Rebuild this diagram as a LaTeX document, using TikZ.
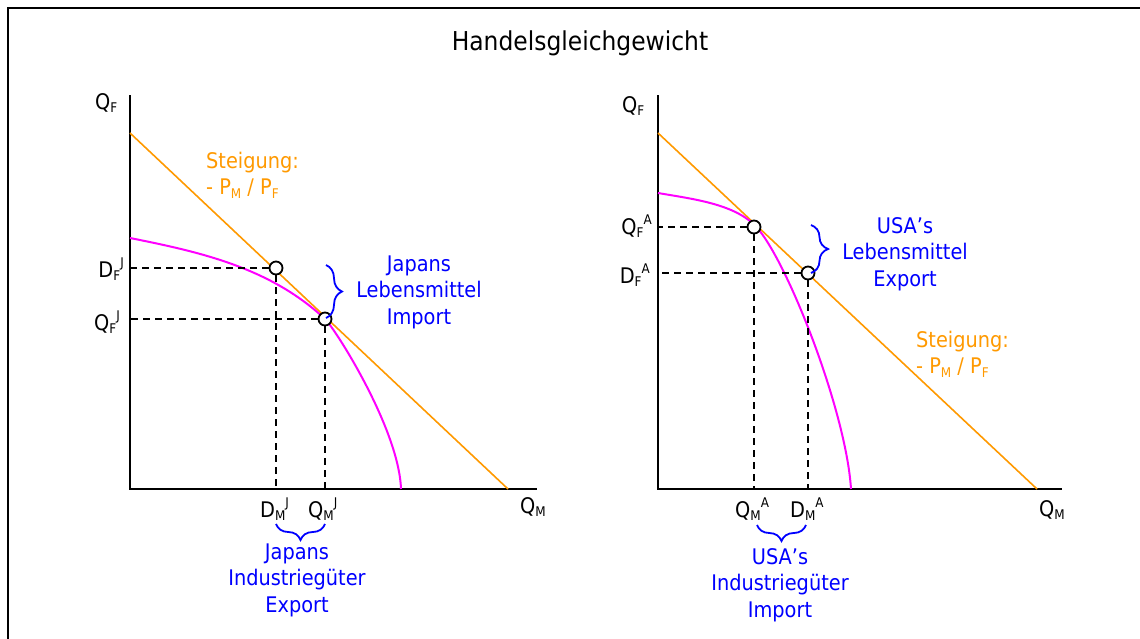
\documentclass[tikz,border=0pt]{standalone}
\usepackage{fontspec}
\usepackage{graphicx}
\setmainfont{DejaVu Sans Condensed}
\usetikzlibrary{decorations.pathreplacing}
\definecolor{orng}{HTML}{FF9900}
\definecolor{pnk}{HTML}{FF00FF}
\definecolor{blu}{HTML}{0000FF}
\newcommand{\sbs}[1]{\raisebox{-0.16em}{\scalebox{0.62}{#1}}}
\newcommand{\sps}[1]{\raisebox{0.46em}{\scalebox{0.62}{#1}}}
\tikzset{
  frameline/.style={line width=2pt},
  axisline/.style={line width=2pt},
  budget/.style={orng, line width=1.6pt},
  ppf/.style={pnk, line width=2pt},
  guide/.style={dash pattern=on 7pt off 5pt, line width=1.7pt},
  ptc/.style={circle, draw, line width=1.8pt, fill=white, minimum size=13pt, inner sep=0pt},
  lab/.style={inner sep=0pt, font=\fontsize{21.5}{26.5}\selectfont},
  bluetext/.style={lab, text=blu, align=center},
  orngtext/.style={lab, text=orng, align=left},
  brc/.style={blu, line width=1.8pt, decorate, decoration={brace, amplitude=#1}},
}
\begin{document}
\begin{tikzpicture}[x=1pt,y=-1pt]
\useasboundingbox (0,0) rectangle (1140,638);
\clip (0,0) rectangle (1140,638);
% frame
\coordinate (F1) at (8,660);
\coordinate (F2) at (8,8);
\coordinate (F3) at (1160,8);
\draw[frameline] (F1) -- (F2) -- (F3);
\node[lab, font=\fontsize{26}{30}\selectfont] (title) at (580,43) {Handelsgleichgewicht};

% ===== left graph =====
\coordinate (LO) at (130,489);
\coordinate (LYt) at (130,95);
\coordinate (LXe) at (537,489);
\draw[axisline] (LYt) -- (LO) -- (LXe);
\node[lab, anchor=base west] (LQF) at (95,109) {Q\sbs{F}};
\node[lab, anchor=base west] (LQM) at (520,513) {Q\sbs{M}};
\coordinate (LA) at (130,133);
\coordinate (LB) at (508,489);
\draw[budget] (LA) -- (LB);
\coordinate (LP0) at (130,238);
\coordinate (LPT) at (325,319);
\coordinate (LPE) at (401,489);
\draw[ppf] (LP0) .. controls (200,252) and (270,267.5) .. (LPT)
                 .. controls (335,328.4) and (399,429) .. (LPE);
\node[ptc] (LD) at (276,268) {};
\node[ptc] (LQ) at (325,319) {};
\draw[guide] (LD) -- (LD -| LO);
\draw[guide] (LQ) -- (LQ -| LO);
\draw[guide] (LD) -- (LD |- LO);
\draw[guide] (LQ) -- (LQ |- LO);
\node[lab, anchor=base east] (LDF) at (124,277) {D\sbs{F}\sps{J}};
\node[lab, anchor=base east] (LQFJ) at (120,330) {Q\sbs{F}\sps{J}};
\node[lab, anchor=base west] (LDM) at (260,517) {D\sbs{M}\sps{J}};
\node[lab, anchor=base west] (LQMJ) at (308,517) {Q\sbs{M}\sps{J}};
\node[orngtext, anchor=west] (Lsl) at (206,175) {Steigung:\\- P\sbs{M} / P\sbs{F}};
\coordinate (LbT) at (326,265);
\coordinate (LbB) at (326,318);
\draw[brc=16pt] (LbT) -- (LbB);
\node[bluetext] (Limp) at (419,292) {Japans\\Lebensmittel\\Import};
\coordinate (LhR) at (325,524);
\coordinate (LhL) at (276,524);
\draw[brc=16pt] (LhR) -- (LhL);
\node[bluetext] (Lexp) at (297,580) {Japans\\Industriegüter\\Export};

% ===== right graph =====
\coordinate (RO) at (658,489);
\coordinate (RYt) at (658,95);
\coordinate (RXe) at (1062,489);
\draw[axisline] (RYt) -- (RO) -- (RXe);
\node[lab, anchor=base west] (RQF) at (622,112) {Q\sbs{F}};
\node[lab, anchor=base west] (RQM) at (1039,516) {Q\sbs{M}};
\coordinate (RA) at (658,133);
\coordinate (RB) at (1037,489);
\draw[budget] (RA) -- (RB);
\coordinate (RP0) at (658,193);
\coordinate (RPT) at (754,224.5);
\coordinate (RPE) at (851,489);
\draw[ppf] (RP0) .. controls (693,199) and (732,203.7) .. (RPT)
                 .. controls (784,252.8) and (846,409) .. (RPE);
\node[ptc] (RQ) at (754,227) {};
\node[ptc] (RD) at (808,273) {};
\draw[guide] (RQ) -- (RQ -| RO);
\draw[guide] (RD) -- (RD -| RO);
\draw[guide] (RQ) -- (RQ |- RO);
\draw[guide] (RD) -- (RD |- RO);
\node[lab, anchor=base east] (RQFA) at (652,234) {Q\sbs{F}\sps{A}};
\node[lab, anchor=base east] (RDFA) at (650,283) {D\sbs{F}\sps{A}};
\node[lab, anchor=base west] (RQMA) at (735,517) {Q\sbs{M}\sps{A}};
\node[lab, anchor=base west] (RDMA) at (790,517) {D\sbs{M}\sps{A}};
\node[orngtext, anchor=west] (Rsl) at (916,354) {Steigung:\\- P\sbs{M} / P\sbs{F}};
\coordinate (RbT) at (811,225);
\coordinate (RbB) at (811,273);
\draw[brc=17pt] (RbT) -- (RbB);
\node[bluetext] (Rexp) at (905,254) {USA’s\\Lebensmittel\\Export};
\coordinate (RhR) at (806,525);
\coordinate (RhL) at (757,525);
\draw[brc=16pt] (RhR) -- (RhL);
\node[bluetext] (Rimp) at (780,585) {USA’s\\Industriegüter\\Import};
\end{tikzpicture}
\end{document}
